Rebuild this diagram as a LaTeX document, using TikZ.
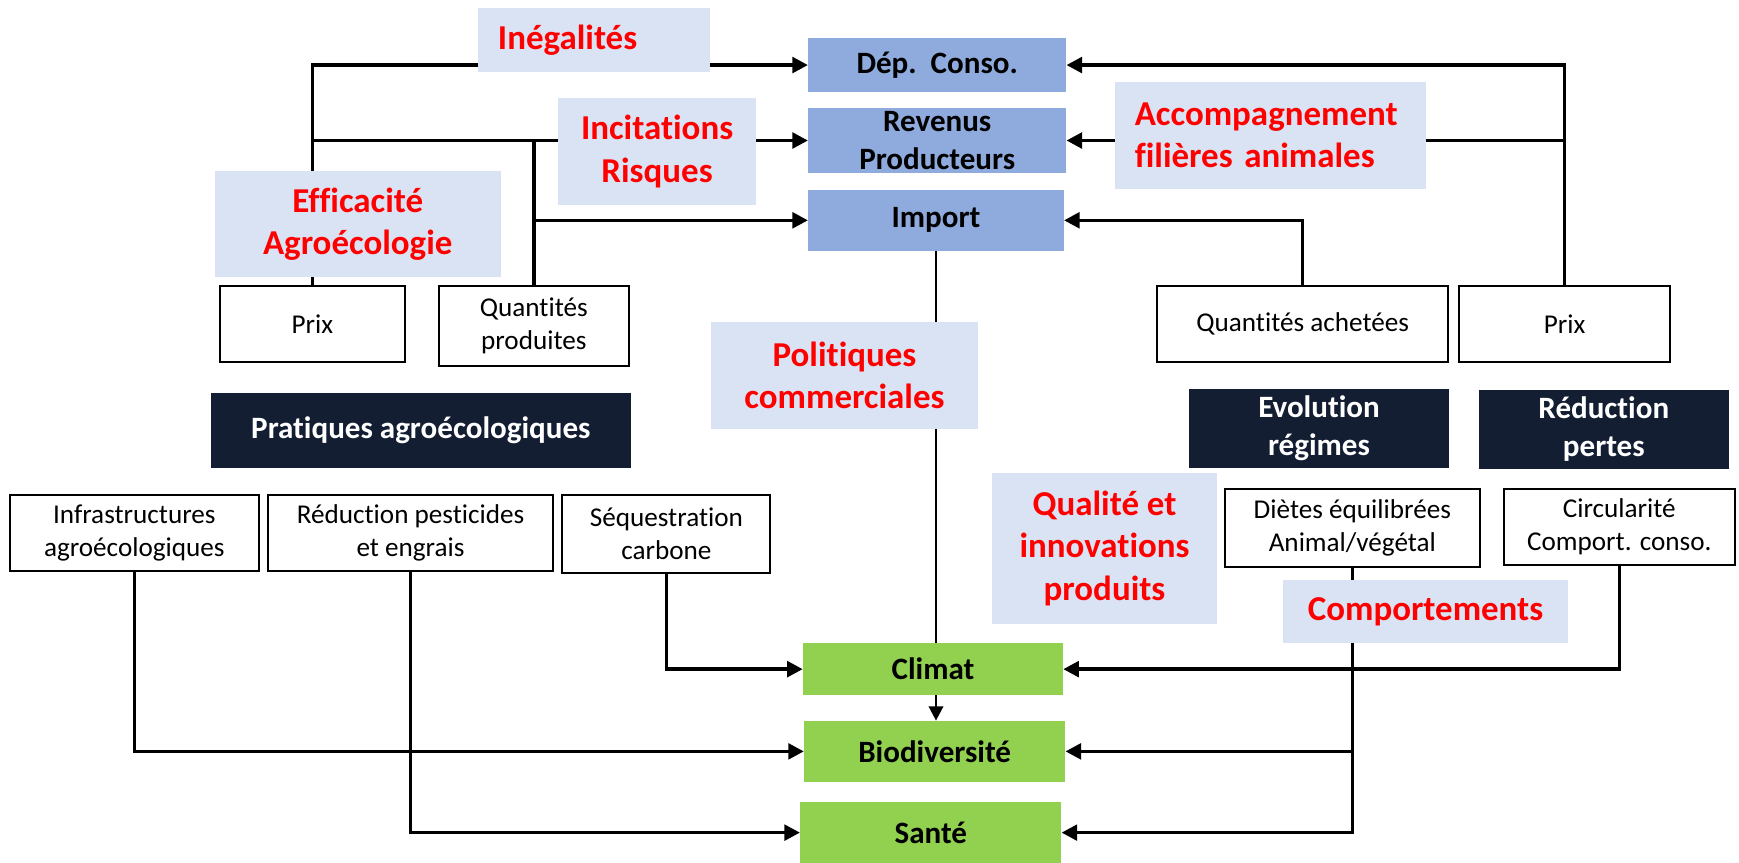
\documentclass[tikz,border=0pt]{standalone}
\usepackage{fontspec}
\setmainfont{Carlito}[Ligatures=NoCommon]
\usetikzlibrary{arrows.meta,backgrounds}
\definecolor{blueb}{HTML}{8FAADC}
\definecolor{lightb}{HTML}{DAE3F3}
\definecolor{greenb}{HTML}{92D050}
\definecolor{navyb}{HTML}{131E33}
\definecolor{redt}{HTML}{FF0000}
\begin{document}
\begin{tikzpicture}[x=1pt,y=-1pt,
 box/.style={inner sep=0pt, align=center},
 bluebox/.style={box, fill=blueb, font=\fontsize{28}{34}\selectfont\bfseries},
 greenbox/.style={box, fill=greenb, font=\fontsize{28}{34}\selectfont\bfseries},
 navybox/.style={box, fill=navyb, text=white, font=\fontsize{28}{34}\selectfont\bfseries},
 labelbox/.style={box, fill=lightb, text=redt, font=\fontsize{31.5}{38.5}\selectfont\bfseries},
 whitebox/.style={box, draw=black, line width=1.8pt, fill=white, font=\fontsize{24.5}{30}\selectfont},
 conn/.style={line width=3.2pt, -{Triangle[length=14pt,width=14pt]}},
 thinconn/.style={line width=2.2pt, -{Triangle[length=13pt,width=13pt]}},
 plainline/.style={line width=3.2pt},
]
\useasboundingbox (0,0) rectangle (1568,778);

% central boxes
\node[bluebox, minimum width=232.7, minimum height=48.1] (dep) at (845.05,58.65) {Dép.~~Conso.};
\node[bluebox, minimum width=232.7, minimum height=58] (rev) at (845.05,126.7) {Revenus\\Producteurs};
\node[bluebox, minimum width=230.5, minimum height=54.7] (imp) at (843.95,198.65) {Import};
\node[greenbox, minimum width=234.5, minimum height=46.7] (clim) at (841.25,603.35) {Climat};
\node[greenbox, minimum width=235.5, minimum height=55] (bio) at (842.75,677.5) {Biodiversité};
\node[greenbox, minimum width=235.5, minimum height=54.5] (san) at (839.25,750.75) {Santé};

% red labels
\node[labelbox, minimum width=209.4, minimum height=57.1, text width=173.8, inner xsep=17.8, align=left] (ineg) at (535.9,36.05) {Inégalités};
\node[labelbox, minimum width=178.3, minimum height=95.8] (inc) at (592.45,136.6) {Incitations\\Risques};
\node[labelbox, minimum width=257.7, minimum height=95.8] (eff) at (322.55,202.1) {Efficacité\\Agroécologie};
\node[labelbox, minimum width=280.2, minimum height=96.2, text width=245, inner xsep=17.6, align=left] (acc) at (1145.7,122) {Accompagnement\\filières animales};
\node[labelbox, minimum width=240.1, minimum height=95.9] (pol) at (761.45,338.55) {Politiques\\commerciales};
\node[labelbox, minimum width=203.2, minimum height=135.5] (qual) at (995.9,494.5) {Qualité et\\innovations\\produits};
\node[labelbox, minimum width=256.3, minimum height=57] (comp) at (1285.35,551.5) {Comportements};

% white boxes
\node[whitebox, minimum width=166.3, minimum height=69.1] (prixL) at (281.65,292.15) {Prix};
\node[whitebox, minimum width=171.9, minimum height=72.4] (qp) at (481.35,293.8) {Quantités\\produites};
\node[whitebox, minimum width=262, minimum height=69.1] (qa) at (1174.6,292.15) {Quantités achetées};
\node[whitebox, minimum width=190.3, minimum height=69.1] (prixR) at (1410.65,292.15) {Prix};
\node[whitebox, minimum width=225, minimum height=68.3] (infra) at (121.1,480.75) {Infrastructures\\agroécologiques};
\node[whitebox, minimum width=256.9, minimum height=68.3] (redpe) at (370.15,480.75) {Réduction pesticides\\et engrais};
\node[whitebox, minimum width=187.7, minimum height=69.7] (seq) at (600.85,481.45) {Séquestration\\carbone};
\node[whitebox, minimum width=229.5, minimum height=70.1] (diet) at (1219.35,475.95) {Diètes équilibrées\\Animal/végétal};
\node[whitebox, minimum width=208.3, minimum height=68.5] (circ) at (1460.05,475.15) {Circularité\\Comport. conso.};

% navy boxes
\node[navybox, minimum width=379, minimum height=67.1] (prat) at (379.5,388.15) {Pratiques agroécologiques};
\node[navybox, minimum width=234, minimum height=71] (evol) at (1189.3,386.2) {Evolution\\régimes};
\node[navybox, minimum width=225, minimum height=71] (redpt) at (1446.1,387.1) {Réduction\\pertes};

% connectors
\begin{scope}[on background layer]
\draw[conn] (prixL.north) |- (dep.west);
\draw[conn] (prixL.north) |- (rev.west);
\draw[conn] (qp.north) |- (imp.west);
\draw[plainline] (qp.north) -- (qp.north |- rev.west);
\draw[conn] (prixR.north) |- (dep.east);
\draw[conn] (prixR.north) |- (rev.east);
\draw[conn] (qa.north) |- (imp.east);
\draw[thinconn] (imp.south) -- (imp.south |- bio.north);
\draw[conn] (seq.south) |- (clim.west);
\draw[conn] (infra.south) |- (bio.west);
\draw[conn] (redpe.south) |- (san.west);
\draw[conn] (diet.south) |- (bio.east);
\draw[conn] (diet.south) |- (san.east);
\draw[conn] (circ.south) |- (clim.east);
\end{scope}
\end{tikzpicture}
\end{document}
